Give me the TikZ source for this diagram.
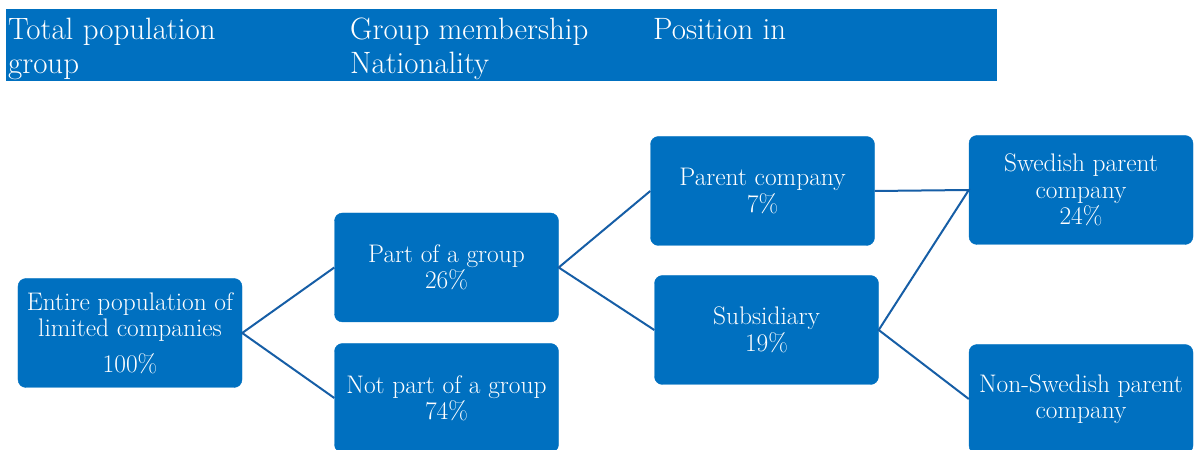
\documentclass[tikz,border=0pt]{standalone}
\definecolor{boxblue}{RGB}{0,112,192}
\definecolor{linkblue}{RGB}{22,94,166}
\begin{document}
\begin{tikzpicture}[x=1bp, y=-1bp,
	cell/.style={draw=boxblue, fill=boxblue, rounded corners=8bp, minimum width=224bp, minimum height=109bp,
		inner sep=0pt, text=white, align=center, font=\fontsize{25.5}{26.5}\selectfont},
	head/.style={anchor=base west, inner sep=0pt, text=white, font=\fontsize{31}{34}\selectfont},
	link/.style={draw=linkblue, line width=2bp}]
	\useasboundingbox (0,0) rectangle (1203,450);
	\clip (0,0) rectangle (1203,450);
	\fill[boxblue] (6,9) rectangle (997,81);
	\node[head] (tot1) at (8,40)   {Total population};
	\node[head] (tot2) at (8,74)   {group};
	\node[head] (grp1) at (350,40) {Group membership};
	\node[head] (grp2) at (350,74) {Nationality};
	\node[head] (pos1) at (653,40) {Position in};
	\node[cell] (entire)  at (130,333)    {Entire population of\\limited companies\\[9bp]100\%};
	\node[cell] (part)    at (446.5,267.5) {Part of a group\\26\%};
	\node[cell] (notpart) at (446.5,398)   {Not part of a group\\74\%};
	\node[cell] (parent)  at (762.5,191)   {Parent company\\7\%};
	\node[cell] (subsid)  at (766.5,330)   {Subsidiary\\19\%};
	\node[cell] (swed)    at (1081,190)    {Swedish parent\\company\\24\%};
	\node[cell] (nonswed) at (1081,399)    {Non-Swedish parent\\company};
	\draw[link] (part.west) -- (entire.east) -- (notpart.west);
	\draw[link] (parent.west) -- (part.east) -- (subsid.west);
	\draw[link] (parent.east) -- (swed.west) -- (subsid.east) -- (nonswed.west);
\end{tikzpicture}
\end{document}
